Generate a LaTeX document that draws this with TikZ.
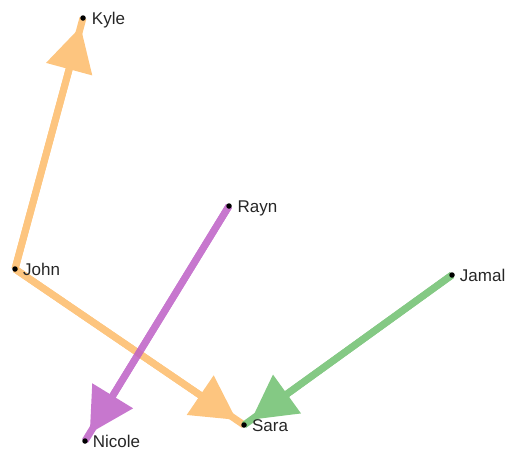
\documentclass[tikz,border=0pt]{standalone}
\usepackage{fontspec}
\setmainfont{Liberation Sans}
\usetikzlibrary{arrows.meta,backgrounds}

\definecolor{linkorange}{RGB}{253,187,104}
\definecolor{linkpurple}{RGB}{189,95,198}
\definecolor{linkgreen}{RGB}{111,191,111}

\begin{document}
\begin{tikzpicture}[x=1pt,y=-1pt]
  \useasboundingbox (0,0) rectangle (509,450);
  \begin{scope}[
    every node/.style={
      circle,
      fill=black,
      inner sep=0pt,
      minimum size=5.5pt,
    },
    every label/.style={
      fill=none,
      inner sep=0pt,
      anchor=base west,
      xshift=4pt,
      yshift=-6.3pt,
      font=\fontsize{17}{20}\selectfont,
      text=black!85,
    },
    ]
    % people
    \node [label=right:Kyle] (Kyle) at (83,18) {};
    \node [label=right:John] (John) at (15,269) {};
    \node [label=right:Rayn] (Rayn) at (229,206) {};
    \node [label=right:Jamal] (Jamal) at (452,275) {};
    \node [label=right:Nicole] (Nicole) at (85,441) {};
    \node [label=right:Sara] (Sara) at (244,425) {};
  \end{scope}
  \begin{scope}[
    on background layer,
    link/.style={
      line width=7pt,
      draw=#1,
    },
    linkhead/.style={
      link=#1,
      -{Triangle[length=44pt,width=46pt]},
      shorten >=9pt,
    },
    ]
    % Path John
    \begin{scope}[transparency group,opacity=0.85]
      \draw [link=linkorange] (John.center) -- (Kyle.center);
      \draw [linkhead=linkorange] (John.center) -- (Kyle.center);
    \end{scope}
    \begin{scope}[transparency group,opacity=0.85]
      \draw [link=linkorange] (John.center) -- (Sara.center);
      \draw [linkhead=linkorange] (John.center) -- (Sara.center);
    \end{scope}

    % Path Rayn
    \begin{scope}[transparency group,opacity=0.85]
      \draw [link=linkpurple] (Rayn.center) -- (Nicole.center);
      \draw [linkhead=linkpurple] (Rayn.center) -- (Nicole.center);
    \end{scope}

    % Path Jamal
    \begin{scope}[transparency group,opacity=0.85]
      \draw [link=linkgreen] (Jamal.center) -- (Sara.center);
      \draw [linkhead=linkgreen] (Jamal.center) -- (Sara.center);
    \end{scope}
  \end{scope}
\end{tikzpicture}
\end{document}
